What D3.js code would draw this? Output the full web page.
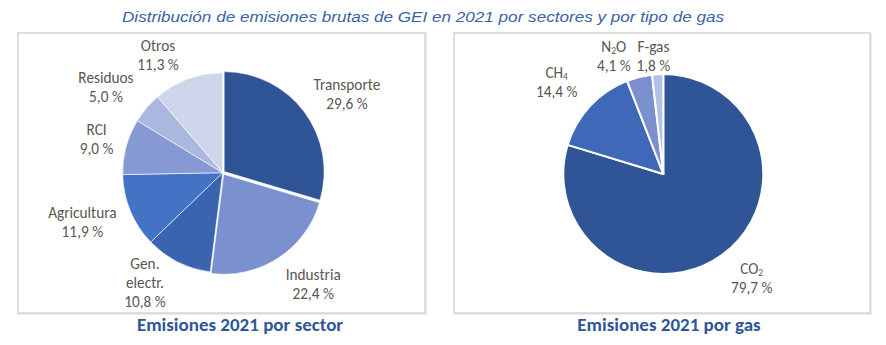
<!DOCTYPE html>
<html>
<head>
<meta charset="utf-8">
<script src="https://cdn.jsdelivr.net/npm/d3@7/dist/d3.min.js"></script>
<style>
  html, body { margin: 0; padding: 0; background: #ffffff; }
  svg { display: block; }
</style>
</head>
<body>
<svg id="chart" width="886" height="345"></svg>
<script>
// Emissions by sector (percent of gross GHG emissions, 2021)
const sectorNames = ["Transporte", "Industria", "Gen. electr.", "Agricultura", "RCI", "Residuos", "Otros"];
const sectorValues = [29.6, 22.4, 10.8, 11.9, 9.0, 5.0, 11.3];
const sectorColors = ["#2f5597", "#7b90cf", "#3b64b0", "#4472c4", "#8799d2", "#aab7df", "#cfd6ec"];

// Emissions by gas
const gasNames = ["CO₂", "CH₄", "N₂O", "F-gas"];
const gasValues = [79.7, 14.4, 4.1, 1.8];
const gasColors = ["#2f5597", "#3f69b8", "#7b90cf", "#b4c1e6"];

const chartTitle = "Distribución de emisiones brutas de GEI en 2021 por sectores y por tipo de gas";
const panelTitles = ["Emisiones 2021 por sector", "Emisiones 2021 por gas"];

const fmt = v => d3.format(".1f")(v).replace(".", ",") + " %";
const SUB = "₀₁₂₃₄₅₆₇₈₉";

const svg = d3.select("#chart");
const labelFont = "Carlito, Lato, 'Open Sans', sans-serif";

// Main title
svg.append("text")
  .attr("x", 423).attr("y", 22)
  .attr("text-anchor", "middle")
  .attr("font-family", "'Liberation Sans Narrow', 'Arial Narrow', 'Liberation Sans', Arial, sans-serif")
  .attr("font-style", "italic")
  .attr("font-size", 14)
  .attr("fill", "#3a62a7")
  .attr("textLength", 602)
  .attr("lengthAdjust", "spacingAndGlyphs")
  .text(chartTitle);

// Panel frames
const panels = [
  { x: 18, y: 33, w: 407, h: 280 },
  { x: 454, y: 33, w: 416, h: 280 }
];
panels.forEach(p => {
  svg.append("rect")
    .attr("x", p.x + 1).attr("y", p.y + 1).attr("width", p.w).attr("height", p.h)
    .attr("fill", "none").attr("stroke", "#ececec").attr("stroke-width", 2);
  svg.append("rect")
    .attr("x", p.x).attr("y", p.y).attr("width", p.w).attr("height", p.h)
    .attr("fill", "#fff").attr("stroke", "#d4d4d4").attr("stroke-width", 1.5);
});

// Writes a line of text, turning subscript digits into smaller lowered glyphs
function writeLine(text, str, size) {
  let buf = "";
  const flush = () => { if (buf) { text.append("tspan").text(buf); buf = ""; } };
  for (const ch of str) {
    const k = SUB.indexOf(ch);
    if (k >= 0) {
      flush();
      text.append("tspan")
        .attr("font-size", size * 0.62)
        .attr("baseline-shift", -size * 0.1)
        .text(String(k));
    } else {
      buf += ch;
    }
  }
  flush();
}

function drawPie(cfg) {
  const pie = d3.pie().sort(null).value(d => d.value);
  const arcs = pie(cfg.names.map((n, i) => ({ name: n, value: cfg.values[i], color: cfg.colors[i] })));
  const arc = d3.arc().innerRadius(0).outerRadius(cfg.r);
  const g = svg.append("g").attr("transform", `translate(${cfg.cx},${cfg.cy})`);

  g.selectAll("path.slice").data(arcs).enter().append("path")
    .attr("class", "slice")
    .attr("d", arc)
    .attr("fill", d => d.data.color)
    .attr("stroke", "#fff")
    .attr("stroke-width", cfg.stroke)
    .attr("stroke-linejoin", "round")
    .attr("transform", d => {
      const e = (cfg.explode[d.data.name] || 0);
      const a = (d.startAngle + d.endAngle) / 2;
      return `translate(${e * Math.sin(a)},${-e * Math.cos(a)})`;
    });

  // Labels: category name + percentage, placed outside along the slice's mid-angle
  const fs = 15.3;
  arcs.forEach(d => {
    const a = (d.startAngle + d.endAngle) / 2;
    const nudge = cfg.nudge[d.data.name] || [0, 0];
    const x = cfg.labelR * Math.sin(a) + nudge[0];
    const y = -cfg.labelR * Math.cos(a) + nudge[1];
    const lines = cfg.split.includes(d.data.name) ? d.data.name.split(" ") : [d.data.name];
    lines.push(fmt(d.data.value));
    const lh = 18.7;
    lines.forEach((ln, i) => {
      const t = g.append("text")
        .attr("x", x)
        .attr("y", y + (i - (lines.length - 1) / 2) * lh)
        .attr("dy", "0.35em")
        .attr("text-anchor", "middle")
        .attr("font-family", labelFont)
        .attr("font-size", fs)
        .attr("fill", "#5a5651");
      writeLine(t, ln, fs);
    });
  });

  svg.append("text")
    .attr("x", cfg.titleX).attr("y", 331)
    .attr("text-anchor", "middle")
    .attr("font-family", labelFont)
    .attr("font-weight", "bold")
    .attr("font-size", 19)
    .attr("fill", "#2f5597")
    .text(cfg.title);
}

drawPie({
  names: sectorNames, values: sectorValues, colors: sectorColors,
  cx: 222.7, cy: 172.7, r: 100, labelR: 140, stroke: 0.6,
  explode: { "Transporte": 1.8, "Industria": 1.8 },
  split: ["Gen. electr."],
  nudge: {
    "Transporte": [12, 5], "Industria": [14, -6], "Gen. electr.": [-15, -15],
    "Agricultura": [-11, -4], "RCI": [9, 3], "Residuos": [-10, 5], "Otros": [-16, 14]
  },
  title: panelTitles[0], titleX: 240
});

drawPie({
  names: gasNames, values: gasValues, colors: gasColors,
  cx: 663.3, cy: 174, r: 100, labelR: 140, stroke: 2,
  explode: {},
  split: [],
  nudge: { "CO₂": [5, -8], "CH₄": [-4, 3], "N₂O": [-16, 18], "F-gas": [-2, 22] },
  title: panelTitles[1], titleX: 669
});
</script>
</body>
</html>
